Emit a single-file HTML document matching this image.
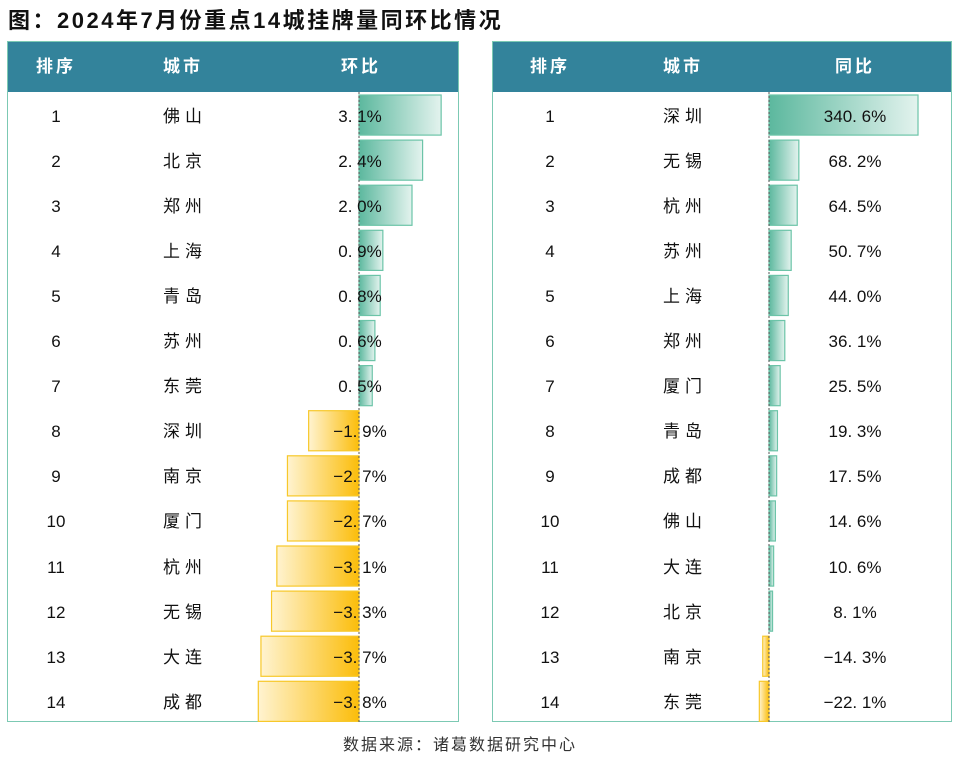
<!DOCTYPE html>
<html><head><meta charset="utf-8">
<style>
body{margin:0;width:960px;height:762px;background:#fff;position:relative;overflow:hidden;font-family:"Liberation Sans","Noto Sans CJK SC",sans-serif;}
.title{position:absolute;left:8px;top:3px;font-size:22px;font-weight:bold;color:#111;letter-spacing:2.5px;font-family:"Liberation Sans","Noto Sans CJK SC",sans-serif;}
.tbl{position:absolute;top:41px;height:681px;border:1px solid #7cc9b3;box-sizing:border-box;}
.hdr{position:absolute;left:0;top:0;right:0;height:50px;background:#33839b;}
.h{position:absolute;top:0;height:50px;line-height:50px;color:#fff;font-size:17px;font-weight:bold;transform:translateX(-50%);letter-spacing:3px;font-family:"Liberation Sans","Noto Sans CJK SC",sans-serif;}
.c{position:absolute;font-size:17px;color:#111;transform:translate(-50%,-50%);white-space:nowrap;line-height:20px;}
.cn{font-family:"Liberation Sans","Noto Sans CJK SC",sans-serif;letter-spacing:5px;transform:translate(calc(-50% + 2px),-50%);}
.src{position:absolute;top:731px;left:343px;font-size:16px;color:#333;letter-spacing:2px;font-family:"Liberation Sans","Noto Sans CJK SC",sans-serif;}
</style></head><body>
<div class="title">图：2024年7月份重点14城挂牌量同环比情况</div>
<div class="tbl" id="t1" style="left:7px;width:452px;">
 <div class="hdr"></div>
</div>
<div class="tbl" id="t2" style="left:492px;width:460px;">
 <div class="hdr"></div>
</div>
<div class="src">数据来源：诸葛数据研究中心</div>
<script>
const momCities=["佛山","北京","郑州","上海","青岛","苏州","东莞","深圳","南京","厦门","杭州","无锡","大连","成都"];
const momValues=[3.1,2.4,2.0,0.9,0.8,0.6,0.5,-1.9,-2.7,-2.7,-3.1,-3.3,-3.7,-3.8];
const yoyCities=["深圳","无锡","杭州","苏州","上海","郑州","厦门","青岛","成都","佛山","大连","北京","南京","东莞"];
const yoyValues=[340.6,68.2,64.5,50.7,44.0,36.1,25.5,19.3,17.5,14.6,10.6,8.1,-14.3,-22.1];
const headers1=["排序","城市","环比"],headers2=["排序","城市","同比"];
function build(id,heads,hx,cities,vals,zero,scale,valX,dec,tag){
 const t=document.getElementById(id);
 const hd=t.querySelector('.hdr');
 heads.forEach((h,i)=>{const d=document.createElement('div');d.className='h';d.style.left=hx[i]+'px';d.textContent=h;
 
 
 hd.appendChild(d);});
 const ns='http://www.w3.org/2000/svg';
 const svg=document.createElementNS(ns,'svg');svg.setAttribute('width',t.offsetWidth);svg.setAttribute('height',681);
 svg.style.position='absolute';svg.style.left='-1px';svg.style.top='-1px';
 svg.innerHTML='<defs><linearGradient id="g'+id+'" x1="0" x2="1"><stop offset="0" stop-color="#5cb89e"/><stop offset="1" stop-color="#e3f3ee"/></linearGradient><linearGradient id="o'+id+'" x1="0" x2="1"><stop offset="0" stop-color="#fff3d0"/><stop offset="1" stop-color="#fbbd0a"/></linearGradient></defs>';
 t.appendChild(svg);
 const rowH=45.1,top0=52;
 vals.forEach((v,i)=>{
  const y=top0+i*rowH;
  const w=Math.abs(v)*scale;
  const r=document.createElementNS(ns,'rect');
  r.setAttribute('x',v>=0?zero:zero-w);r.setAttribute('y',y+2);r.setAttribute('width',w);r.setAttribute('height',rowH-5);
  r.setAttribute('fill',v>=0?'url(#g'+id+')':'url(#o'+id+')');
  r.setAttribute('stroke',v>=0?'#6cc4a8':'#f7c82a');r.setAttribute('stroke-width','1.2');
  
  
  svg.appendChild(r);
  const cy=y+rowH/2;
  [[hx[0],String(i+1),''],[hx[1],cities[i],' cn'],[valX,(v<0?'−':'')+Math.abs(v).toFixed(1).replace('.',dec)+'%','']].forEach((c,k)=>{
   const d=document.createElement('div');d.className='c'+c[2];d.style.left=c[0]+'px';d.style.top=cy+'px';d.textContent=c[1];
   
   
   t.appendChild(d);});
 });
 const l=document.createElementNS(ns,'line');l.setAttribute('x1',zero);l.setAttribute('x2',zero);l.setAttribute('y1',51);l.setAttribute('y2',681);
 l.setAttribute('stroke','#555');l.setAttribute('stroke-dasharray','2,2');l.setAttribute('stroke-width','1');
 
 
 svg.appendChild(l);
}
build('t1',headers1,[48,175,353],momCities,momValues,352,26.5,352,'. ','mom');
build('t2',headers2,[57,190,362],yoyCities,yoyValues,277,0.4375,362,'. ','yoy');
</script>
</body></html>
